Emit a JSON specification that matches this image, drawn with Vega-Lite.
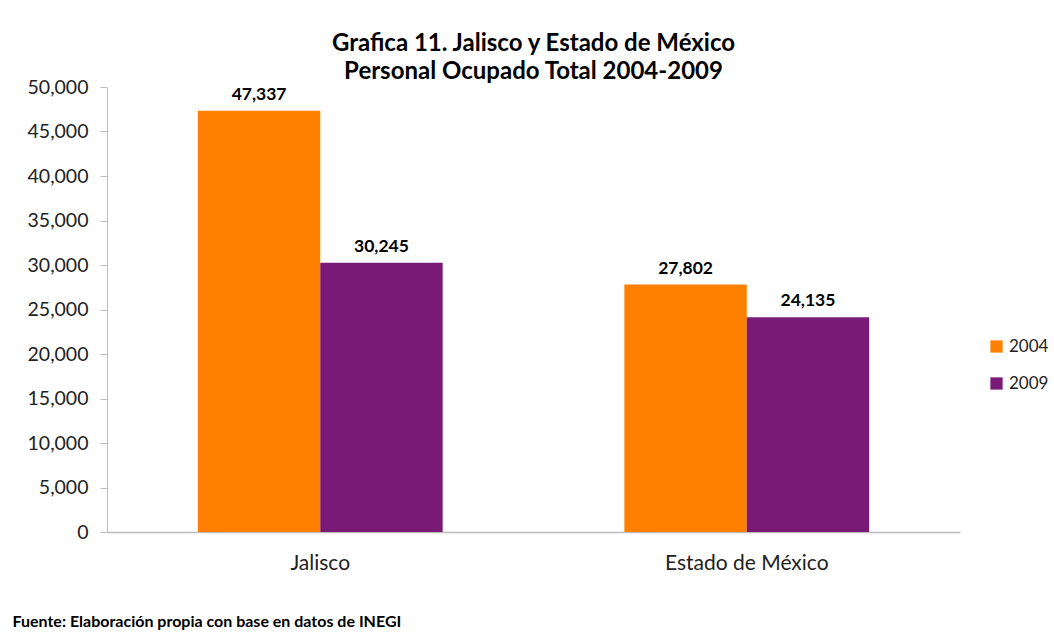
{
  "$schema": "https://vega.github.io/schema/vega-lite/v6.json",
  "autosize": "none",
  "width": 853,
  "height": 445,
  "padding": {"left": 107, "top": 87, "right": 94, "bottom": 102},
  "background": "white",
  "title": {
    "text": ["Grafica 11. Jalisco y Estado de México", "Personal Ocupado Total 2004-2009"],
    "font": "Lato",
    "fontSize": 24,
    "fontWeight": "bold",
    "color": "#000000",
    "lineHeight": 28,
    "anchor": "middle",
    "offset": -7
  },
  "data": {
    "values": [
      {"estado": "Jalisco", "anio": "2004", "valor": 47337},
      {"estado": "Jalisco", "anio": "2009", "valor": 30245},
      {"estado": "Estado de México", "anio": "2004", "valor": 27802},
      {"estado": "Estado de México", "anio": "2009", "valor": 24135}
    ]
  },
  "encoding": {
    "x": {
      "field": "estado",
      "type": "nominal",
      "sort": ["Jalisco", "Estado de México"],
      "scale": {"paddingInner": 0.426, "paddingOuter": 0.213},
      "axis": {
        "title": "Fuente: Elaboración propia con base en datos de INEGI",
        "titleFont": "Lato",
        "titleFontSize": 16,
        "titleFontWeight": "bold",
        "titleColor": "#000000",
        "titleAnchor": "start",
        "titleAlign": "left",
        "titleX": -95,
        "titleY": 81,
        "labelAngle": 0,
        "labelFont": "Lato",
        "labelFontSize": 21,
        "labelColor": "#222222",
        "labelPadding": 20,
        "ticks": false,
        "domainColor": "#bdbdbd",
        "domainWidth": 1.5
      }
    },
    "xOffset": {"field": "anio", "type": "nominal", "scale": {"paddingInner": 0}},
    "y": {
      "field": "valor",
      "type": "quantitative",
      "scale": {"domain": [0, 50000], "nice": false},
      "axis": {
        "title": null,
        "values": [0, 5000, 10000, 15000, 20000, 25000, 30000, 35000, 40000, 45000, 50000],
        "format": ",d",
        "labelFont": "Lato",
        "labelFontSize": 19.5,
        "labelColor": "#222222",
        "labelPadding": 12,
        "tickSize": 7,
        "tickColor": "#bdbdbd",
        "domainColor": "#bdbdbd",
        "grid": false
      }
    }
  },
  "layer": [
    {
      "mark": {"type": "bar"},
      "encoding": {
        "color": {
          "field": "anio",
          "type": "nominal",
          "scale": {"domain": ["2004", "2009"], "range": ["#FF7F00", "#7A1A77"]},
          "legend": {
            "title": null,
            "orient": "none",
            "legendX": 881,
            "legendY": 251,
            "symbolType": "square",
            "symbolSize": 150,
            "symbolStrokeWidth": 0,
            "labelFont": "Lato",
            "labelFontSize": 17,
            "labelColor": "#222222",
            "rowPadding": 19,
            "labelOffset": 4
          }
        }
      }
    },
    {
      "mark": {"type": "text", "baseline": "bottom", "dy": -7, "font": "Lato", "fontSize": 17.5, "fontWeight": "bold", "color": "#000000"},
      "encoding": {
        "text": {"field": "valor", "type": "quantitative", "format": ","}
      }
    }
  ],
  "config": {"view": {"stroke": null}}
}
